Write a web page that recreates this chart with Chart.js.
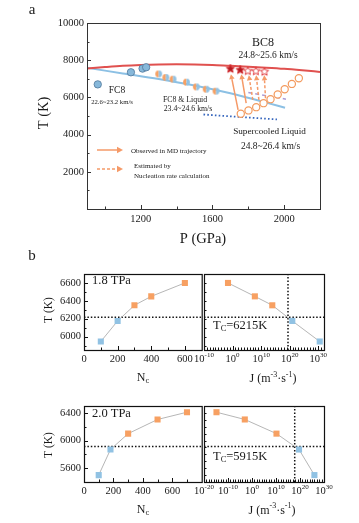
<!DOCTYPE html>
<html>
<head>
<meta charset="utf-8">
<script src="https://cdn.jsdelivr.net/npm/chart.js@4.4.0/dist/chart.umd.min.js"></script>
<style>
  body { margin: 0; background: #fff; }
  #wrap { position: relative; width: 359px; height: 523px; overflow: hidden; }
  canvas { position: absolute; }
</style>
</head>
<body>
<div id="wrap">
  <canvas id="pa"></canvas>
  <canvas id="b1"></canvas>
  <canvas id="b2"></canvas>
  <canvas id="b3"></canvas>
  <canvas id="b4"></canvas>
</div>
<script>
// ---------- panel a : P (GPa) vs T (K) ----------
const fc8P = [960, 1145, 1210, 1230];
const fc8T = [6700, 7350, 7550, 7620];
const mixP = [1300, 1340, 1380, 1455, 1510, 1565, 1620];
const mixT = [7260, 7070, 6980, 6820, 6565, 6440, 6335];
const liqP = [1758, 1801, 1844, 1885, 1924, 1964, 2003, 2043, 2082];
const liqT = [5120, 5300, 5475, 5690, 5905, 6155, 6440, 6725, 7030];
const bc8P = [1700, 1755, 1797, 1842, 1890];
const bc8T = [7570, 7510, 7450, 7440, 7410];
const bc8Seen = [true, true, false, false, false];
const redP = [900, 1000, 1100, 1200, 1300, 1400, 1500, 1600, 1700, 1800, 1900, 2000, 2100, 2200];
const redT = [7550, 7630, 7700, 7745, 7772, 7782, 7775, 7745, 7695, 7650, 7600, 7540, 7460, 7370];
const blueP = [900, 1100, 1300, 1500, 1700, 1900, 2005];
const blueT = [7590, 7290, 6990, 6640, 6220, 5720, 5440];
const dotP = [1550, 1960];
const dotT = [5080, 4815];
const purpleP = [1800, 2010];
const purpleT = [6265, 5905];
const arrowFromP = [1743, 1788, 1825, 1859, 1896];
const arrowFromT = [5330, 5690, 5870, 5870, 5955];
const arrowToP = [1703, 1761, 1803, 1844, 1889];
const arrowToT = [7250, 7250, 7190, 7190, 7190];
const arrowSolid = [true, true, false, false, false];

// ---------- panel b : nucleus size / nucleation rate ----------
const nc18 = [100, 200, 300, 400, 600];
const t18 = [5945, 6175, 6350, 6450, 6600];
const logJ18 = [30.5, 20.9, 13.9, 7.8, -1.6];
const tc18 = 6215, jc18 = 19.4;
const nc20 = [100, 180, 300, 500, 700];
const t20 = [5500, 5870, 6100, 6305, 6410];
const logJ20 = [26, 19.6, 10.2, -3, -14.8];
const tc20 = 5915, jc20 = 17.8;

const ORANGE = '#f7a062', BLUE = '#91c2e3', ARROW = '#f59a68';
const FONT = '"Liberation Serif", "Times New Roman", serif';
const TICK = 10.5;

function range(a, b, s) { const r = []; for (let v = a; v <= b + 1e-9; v += s) r.push(v); return r; }
const pts = (xs, ys) => xs.map((x, i) => ({ x: x, y: ys[i] }));

function halfDot(r) {
  const c = document.createElement('canvas');
  const s = Math.ceil(r * 2 + 2); c.width = s; c.height = s;
  const g = c.getContext('2d');
  g.fillStyle = ORANGE; g.beginPath(); g.arc(s / 2, s / 2, r, Math.PI / 2, Math.PI * 1.5); g.fill();
  g.fillStyle = BLUE; g.beginPath(); g.arc(s / 2, s / 2, r, -Math.PI / 2, Math.PI / 2); g.fill();
  return c;
}
function star(r, fill, stroke) {
  const c = document.createElement('canvas');
  const s = Math.ceil(r * 2 + 3); c.width = s; c.height = s;
  const g = c.getContext('2d');
  g.beginPath();
  for (let i = 0; i < 10; i++) {
    const rr = i % 2 ? r * 0.45 : r, an = -Math.PI / 2 + i * Math.PI / 5;
    g.lineTo(s / 2 + rr * Math.cos(an), s / 2 + 0.6 + rr * Math.sin(an));
  }
  g.closePath(); g.fillStyle = fill; g.fill();
  g.lineWidth = 1; g.strokeStyle = stroke; g.stroke();
  return c;
}
const halfImg = halfDot(3.4);
const starFull = star(4.4, '#b3191f', '#d42a2e');
const starOpen = star(4.4, '#ffffff', '#e0393c');

// draw text made of segments [text, size, dy]
function rich(ctx, segs, x, y, align) {
  let w = 0;
  segs.forEach(s => { ctx.font = s[1] + 'px ' + FONT; w += ctx.measureText(s[0]).width; });
  let cx = align === 'center' ? x - w / 2 : align === 'right' ? x - w : x;
  ctx.textAlign = 'left'; ctx.textBaseline = 'middle';
  segs.forEach(s => {
    ctx.font = s[1] + 'px ' + FONT;
    ctx.fillText(s[0], cx, y + (s[2] || 0));
    cx += ctx.measureText(s[0]).width;
  });
}

function arrow(ctx, x0, y0, x1, y1, dashed, head) {
  const an = Math.atan2(y1 - y0, x1 - x0);
  const bx = x1 - Math.cos(an) * head, by = y1 - Math.sin(an) * head;
  ctx.strokeStyle = ARROW; ctx.fillStyle = ARROW; ctx.lineWidth = 1.5;
  ctx.setLineDash(dashed ? [3, 2] : []);
  ctx.beginPath(); ctx.moveTo(x0, y0); ctx.lineTo(bx, by); ctx.stroke();
  ctx.setLineDash([]);
  const hw = head * 0.55;
  ctx.beginPath();
  ctx.moveTo(x1, y1);
  ctx.lineTo(bx + Math.sin(an) * hw, by - Math.cos(an) * hw);
  ctx.lineTo(bx - Math.sin(an) * hw, by + Math.cos(an) * hw);
  ctx.closePath(); ctx.fill();
}

function decor(spec) {
  return {
    id: 'decor',
    afterDraw(chart) {
      const ctx = chart.ctx, a = chart.chartArea, sx = chart.scales.x, sy = chart.scales.y;
      ctx.save();
      if (spec.extra) spec.extra(chart, ctx);
      ctx.strokeStyle = spec.frame; ctx.lineWidth = spec.frameW; ctx.setLineDash([]);
      ctx.strokeRect(a.left + 0.5, a.top + 0.5, a.right - a.left, a.bottom - a.top);
      ctx.lineWidth = 1;
      const tick = (axis, vals, len) => {
        ctx.beginPath();
        (vals || []).forEach(v => {
          if (axis === 'x') {
            const p = Math.round(sx.getPixelForValue(v)) + 0.5;
            ctx.moveTo(p, a.bottom); ctx.lineTo(p, a.bottom - len);
          } else {
            const p = Math.round(sy.getPixelForValue(v)) + 0.5;
            ctx.moveTo(a.left, p); ctx.lineTo(a.left + len, p);
          }
        });
        ctx.stroke();
      };
      tick('x', spec.xMajor, 4); tick('x', spec.xMinor, 2.5);
      tick('y', spec.yMajor, 4); tick('y', spec.yMinor, 2.5);
      ctx.fillStyle = '#1a1a1a';
      (spec.xLabels || []).forEach(v => rich(ctx, spec.xFmt(v), sx.getPixelForValue(v), a.bottom + spec.xDy, 'center'));
      (spec.yLabels || []).forEach(v => rich(ctx, [[String(v), TICK]], a.left - 3, sy.getPixelForValue(v), 'right'));
      ctx.translate(-spec.off[0], -spec.off[1]);
      (spec.texts || []).forEach(t => {
        ctx.save();
        ctx.fillStyle = t.color || '#1a1a1a';
        ctx.translate(t.x, t.y);
        if (t.rot) ctx.rotate(t.rot * Math.PI / 180);
        rich(ctx, t.segs, 0, 0, t.align || 'center');
        ctx.restore();
      });
      ctx.restore();
    }
  };
}

function makeChart(id, left, top, w, h, area, xr, yr, datasets, spec) {
  const cv = document.getElementById(id);
  cv.width = w; cv.height = h;
  cv.style.left = left + 'px'; cv.style.top = top + 'px';
  spec.off = [left, top];
  return new Chart(cv, {
    type: 'scatter',
    data: { datasets: datasets },
    options: {
      responsive: false,
      animation: false,
      events: [],
      layout: { padding: { left: area[0] - left, top: area[1] - top, right: left + w - area[2], bottom: top + h - area[3] } },
      plugins: { legend: { display: false }, tooltip: { enabled: false }, colors: { enabled: false } },
      scales: {
        x: { type: 'linear', display: false, min: xr[0], max: xr[1] },
        y: { type: 'linear', display: false, min: yr[0], max: yr[1] }
      }
    },
    plugins: [decor(spec)]
  });
}

const lineSet = (xs, ys, color, width, dash, extra) => Object.assign({
  data: pts(xs, ys), showLine: true, pointRadius: 0, borderColor: color,
  borderWidth: width, borderDash: dash || [], order: 2
}, extra || {});

// ---------- panel a ----------
makeChart('pa', 0, 0, 359, 262, [87, 23, 320, 209], [900, 2200], [0, 10000], [
  { data: pts(fc8P, fc8T), pointRadius: 3.7, pointBackgroundColor: '#87b8da', pointBorderColor: '#50779a', pointBorderWidth: 0.8, order: 0 },
  { data: pts(mixP, mixT), pointStyle: halfImg, order: 0 },
  { data: pts(liqP, liqT), pointRadius: 3.6, pointBackgroundColor: '#ffffff', pointBorderColor: '#f39a5e', pointBorderWidth: 1.2, order: 0 },
  { data: pts(bc8P, bc8T), pointStyle: bc8Seen.map(s => s ? starFull : starOpen), order: 0 },
  lineSet(redP, redT, '#e0514f', 2, null, { cubicInterpolationMode: 'monotone' }),
  lineSet(blueP, blueT, '#8cc0e4', 2, null, { cubicInterpolationMode: 'monotone' }),
  lineSet(dotP, dotT, '#3565bd', 1.8, [1.6, 2.2]),
  lineSet(purpleP, purpleT, '#a99ad6', 1.5, [4, 3])
], {
  frame: '#333', frameW: 1,
  xMajor: [1200, 1600, 2000], xMinor: [1000, 1400, 1800],
  yMajor: range(2000, 8000, 2000), yMinor: range(1000, 9000, 2000),
  xLabels: [1200, 1600, 2000], xFmt: v => [[String(v), TICK]], xDy: 10,
  yLabels: range(2000, 10000, 2000),
  extra: (chart, ctx) => {
    const sx = chart.scales.x, sy = chart.scales.y;
    arrowFromP.forEach((p, i) => arrow(ctx, sx.getPixelForValue(p), sy.getPixelForValue(arrowFromT[i]),
      sx.getPixelForValue(arrowToP[i]), sy.getPixelForValue(arrowToT[i]), !arrowSolid[i], 5));
    arrow(ctx, 97, 150, 123, 150, false, 6);
    arrow(ctx, 97, 169, 123, 169, true, 6);
  },
  texts: [
    { x: 32, y: 10, segs: [['a', 15]] },
    { x: 263, y: 43, segs: [['BC8', 12]] },
    { x: 268, y: 55, segs: [['24.8~25.6 km/s', 9.5]] },
    { x: 117, y: 90, segs: [['FC8', 9.5]] },
    { x: 112, y: 102.5, segs: [['22.6~23.2 km/s', 6.7]] },
    { x: 185, y: 99.5, segs: [['FC8 & Liquid', 7.8]] },
    { x: 188, y: 108.5, segs: [['23.4~24.6 km/s', 7.8]] },
    { x: 269.5, y: 131.5, segs: [['Supercooled Liquid', 9.2]] },
    { x: 270.5, y: 146, segs: [['24.8~26.4 km/s', 9.5]] },
    { x: 131, y: 151.5, segs: [['Observed in MD trajectory', 7]], align: 'left' },
    { x: 134, y: 166, segs: [['Estimated by', 7]], align: 'left' },
    { x: 134, y: 176, segs: [['Nucleation rate calculation', 7]], align: 'left' },
    { x: 44, y: 113, rot: -90, segs: [['T (K)', 14.5]] },
    { x: 203, y: 239, segs: [['P (GPa)', 14.5]] },
    { x: 32, y: 256, segs: [['b', 15]] }
  ]
});

// ---------- panel b ----------
const supFmt = v => [['10', TICK], [String(v), 7, -4]];
const ncLabel = (x, y) => ({ x: x, y: y, segs: [['N', 12], ['c', 8.5, 3]] });
const jLabel = (x, y) => ({ x: x, y: y, segs: [['J (m', 12], ['-3', 8, -4.5], ['\u00b7s', 12], ['-1', 8, -4.5], [')', 12]] });
const tcLabel = (x, y, tc) => ({ x: x, y: y, align: 'left', segs: [['T', 12.5], ['C', 8.5, 3], ['=' + tc + 'K', 12.5]] });

function seriesSet(xs, ys, tc) {
  return {
    data: pts(xs, ys), showLine: true, borderColor: '#a3a3a3', borderWidth: 0.8,
    pointStyle: 'rect', pointRadius: 4.3, pointBorderWidth: 0,
    pointBackgroundColor: ys.map(t => t < tc ? BLUE : ORANGE), order: 0
  };
}
const dotted = (xs, ys) => lineSet(xs, ys, '#111', 1.5, [1.5, 1.9]);

// 1.8 TPa
makeChart('b1', 0, 255, 206, 135, [84, 274, 204, 350], [0, 700], [5850, 6700], [
  seriesSet(nc18, t18, tc18),
  dotted([0, 700], [tc18, tc18])
], {
  frame: '#111', frameW: 1.2,
  xMajor: [200, 400, 600], xMinor: [100, 300, 500],
  yMajor: range(6000, 6600, 200), yMinor: range(5900, 6500, 200),
  xLabels: [0, 200, 400, 600], xFmt: v => [[String(v), TICK]], xDy: 9,
  yLabels: range(6000, 6600, 200),
  texts: [
    { x: 92, y: 281, align: 'left', segs: [['1.8 TPa', 12.5]] },
    { x: 49, y: 310, rot: -90, segs: [['T (K)', 11.5]] },
    ncLabel(143, 378)
  ]
});
makeChart('b2', 180, 255, 179, 135, [204, 274, 324, 350], [-10, 32], [5850, 6700], [
  seriesSet(logJ18, t18, tc18),
  dotted([-10, 32], [tc18, tc18]),
  dotted([jc18, jc18], [5850, 6700])
], {
  frame: '#111', frameW: 1.2,
  xMajor: [0, 10, 20, 30], xMinor: range(-9, 31, 1),
  yMajor: [], yMinor: range(5900, 6600, 100),
  xLabels: [-10, 0, 10, 20, 30], xFmt: supFmt, xDy: 9,
  texts: [
    tcLabel(213, 325.5, tc18),
    jLabel(273, 379)
  ]
});

// 2.0 TPa
makeChart('b3', 0, 390, 206, 133, [84, 406, 204, 482], [0, 800], [5400, 6500], [
  seriesSet(nc20, t20, tc20),
  dotted([0, 800], [tc20, tc20])
], {
  frame: '#111', frameW: 1.2,
  xMajor: [200, 400, 600], xMinor: [100, 300, 500, 700],
  yMajor: [5600, 6000, 6400], yMinor: [5800, 6200],
  xLabels: [0, 200, 400, 600], xFmt: v => [[String(v), TICK]], xDy: 9.5,
  yLabels: [5600, 6000, 6400],
  texts: [
    { x: 92, y: 414, align: 'left', segs: [['2.0 TPa', 12.5]] },
    { x: 49, y: 445, rot: -90, segs: [['T (K)', 11.5]] },
    ncLabel(143, 510)
  ]
});
makeChart('b4', 180, 390, 179, 133, [204, 406, 324, 482], [-20, 30], [5400, 6500], [
  seriesSet(logJ20, t20, tc20),
  dotted([-20, 30], [tc20, tc20]),
  dotted([jc20, jc20], [5400, 6500])
], {
  frame: '#111', frameW: 1.2,
  xMajor: [-10, 0, 10, 20], xMinor: range(-19, 29, 1),
  yMajor: [], yMinor: range(5500, 6400, 100),
  xLabels: [-20, -10, 0, 10, 20, 30], xFmt: supFmt, xDy: 9.5,
  texts: [
    tcLabel(213, 456.5, tc20),
    jLabel(272, 510.5)
  ]
});
</script>
</body>
</html>
